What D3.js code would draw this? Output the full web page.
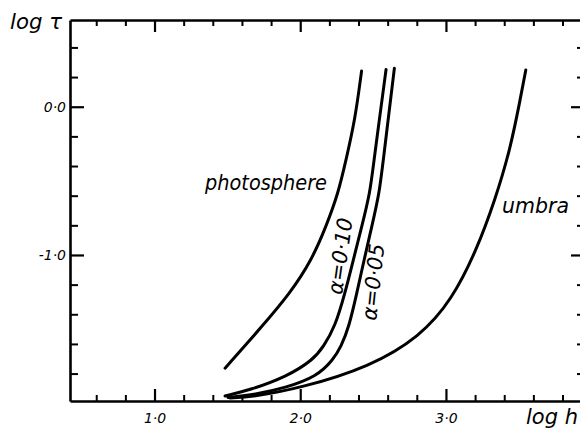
<!DOCTYPE html>
<html>
<head>
<meta charset="utf-8">
<script src="https://cdn.jsdelivr.net/npm/d3@7"></script>
<style>
  body { margin: 0; background: #fff; }
  svg { display: block; }
  .axis path, .axis line { stroke: #000; }
  .axis text { font-family: "DejaVu Sans", sans-serif; font-style: italic; font-size: 14px; fill: #000; }
  .lbl { font-family: "DejaVu Sans", sans-serif; font-style: italic; fill: #000; }
</style>
</head>
<body>
<div class="canvas"></div>
<script>
// curves (log h, log tau)
var photosphereLogH = [2.421, 2.376, 2.314, 2.261, 2.177, 2.079, 1.930, 1.736, 1.484],
    photosphereLogTau = [0.241, -0.090, -0.359, -0.584, -0.809, -1.034, -1.259, -1.484, -1.764];

var alpha10LogH = [2.589, 2.506, 2.479, 2.422, 2.364, 2.307, 2.239, 2.159, 2.088, 1.907, 1.655, 1.484],
    alpha10LogTau = [0.251, -0.359, -0.584, -0.809, -1.034, -1.259, -1.484, -1.619, -1.708, -1.821, -1.911, -1.951];

var alpha05LogH = [2.646, 2.570, 2.543, 2.491, 2.438, 2.388, 2.335, 2.280, 2.225, 2.113, 1.896, 1.690, 1.504],
    alpha05LogTau = [0.259, -0.359, -0.584, -0.809, -1.034, -1.259, -1.484, -1.619, -1.708, -1.821, -1.897, -1.941, -1.961];

var umbraLogH = [3.548, 3.509, 3.440, 3.337, 3.211, 3.040, 2.822, 2.479, 2.005, 1.676, 1.518],
    umbraLogTau = [0.248, 0.045, -0.292, -0.629, -0.966, -1.304, -1.551, -1.754, -1.897, -1.956, -1.965];

// ticks
var xMajor = [1, 2, 3],
    xTickLabels = ['1·0', '2·0', '3·0'],
    xMinor = [0.6, 0.8, 1.2, 1.4, 1.6, 1.8, 2.2, 2.4, 2.6, 2.8, 3.2, 3.4, 3.6, 3.8],
    yMajor = [0, -1],
    yTickLabels = ['0·0', '-1·0'],
    yMinor = [0.4, 0.2, -0.2, -0.4, -0.6, -0.8, -1.2, -1.4, -1.6, -1.8];

var width = 580, height = 431;
var frame = { left: 70, right: 585, top: 20, bottom: 401 };

var svg = d3.select('.canvas').append('svg')
    .attr('width', width)
    .attr('height', height);

var x = d3.scaleLinear().domain([0.42, 3.92]).range([frame.left, 580]),
    y = d3.scaleLinear().domain([-1.985, 0.585]).range([frame.bottom, frame.top]);

function drawAxis(axisFn, scale, pos, transform, labels) {
    var g = svg.append('g').attr('class', 'axis').attr('transform', transform);
    g.append('g')
        .call(axisFn(scale).tickValues(pos === 'x' ? xMinor : yMinor)
            .tickSize(pos === 'x' ? -6 : -8).tickSizeOuter(0).tickFormat(''))
        .call(function (s) { s.select('.domain').remove(); })
        .selectAll('line').attr('stroke-width', 2);
    var maj = g.append('g')
        .call(axisFn(scale).tickValues(pos === 'x' ? xMajor : yMajor)
            .tickSize(pos === 'x' ? -12 : -14).tickSizeOuter(0)
            .tickPadding(pos === 'x' ? 12 : 4)
            .tickFormat(function (d, i) { return labels ? labels[i] : ''; }));
    maj.select('.domain').attr('stroke-width', 2.6);
    maj.selectAll('line').attr('stroke-width', 2.2);
    return maj;
}

drawAxis(d3.axisBottom, x, 'x', 'translate(0,' + frame.bottom + ')', xTickLabels);
drawAxis(d3.axisTop, x, 'x', 'translate(0,' + frame.top + ')', null);
drawAxis(d3.axisLeft, y, 'y', 'translate(' + frame.left + ',0)', yTickLabels);
drawAxis(d3.axisRight, y, 'y', 'translate(' + frame.right + ',0)', null);

// curves, smoothed through the read-off points
var line = d3.line()
    .x(function (d) { return x(d[0]); })
    .y(function (d) { return y(d[1]); })
    .curve(d3.curveBasis);

var curves = [
    [photosphereLogH, photosphereLogTau],
    [alpha10LogH, alpha10LogTau],
    [alpha05LogH, alpha05LogTau],
    [umbraLogH, umbraLogTau]
];

svg.selectAll('path.curve')
    .data(curves)
    .enter()
    .append('path')
    .attr('class', 'curve')
    .attr('d', function (c) { return line(d3.zip(c[0], c[1])); })
    .attr('fill', 'none')
    .attr('stroke', '#000')
    .attr('stroke-width', 3)
    .attr('stroke-linecap', 'round');

// labels
function label(txt, px, py, size, len) {
    return svg.append('text')
        .attr('class', 'lbl')
        .attr('x', px)
        .attr('y', py)
        .attr('font-size', size)
        .attr('textLength', len)
        .attr('lengthAdjust', 'spacingAndGlyphs')
        .text(txt);
}

label('log τ', 10, 29, 22, 52);
label('log h', 526, 424, 22, 52);
label('photosphere', 205, 190, 22, 122);
label('umbra', 502, 213, 22, 67);

svg.append('text')
    .attr('class', 'lbl')
    .attr('font-size', 21)
    .attr('text-anchor', 'middle')
    .attr('dy', '0.35em')
    .attr('textLength', 77)
    .attr('lengthAdjust', 'spacingAndGlyphs')
    .attr('transform', 'translate(340,256) rotate(-82)')
    .text('α=0·10');

svg.append('text')
    .attr('class', 'lbl')
    .attr('font-size', 21)
    .attr('text-anchor', 'middle')
    .attr('dy', '0.35em')
    .attr('textLength', 77)
    .attr('lengthAdjust', 'spacingAndGlyphs')
    .attr('transform', 'translate(373,282) rotate(-84)')
    .text('α=0·05');
</script>
</body>
</html>
